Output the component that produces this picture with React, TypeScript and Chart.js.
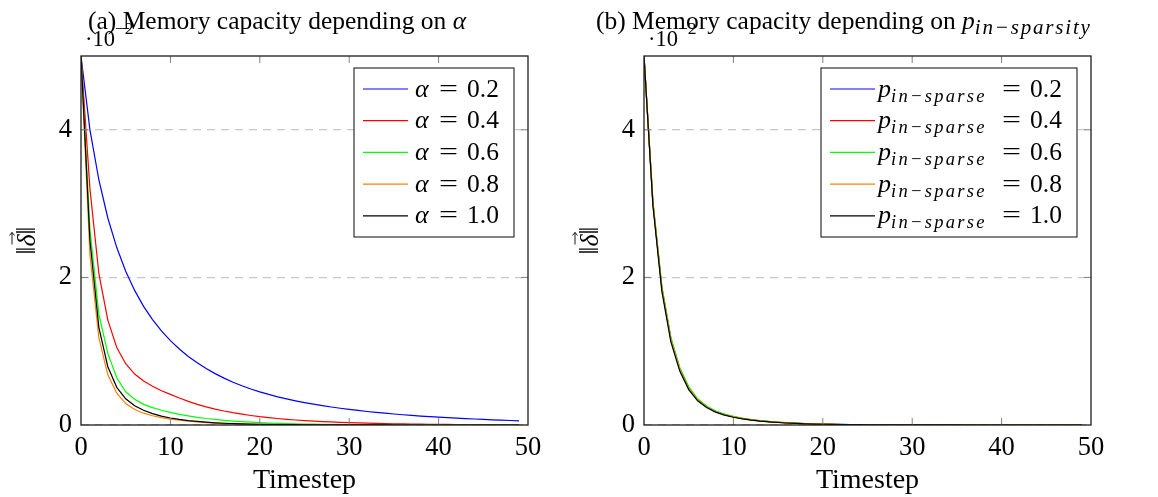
import React, { useEffect, useRef } from "react";
import { Chart, registerables } from "chart.js";

Chart.register(...registerables);

// ---------------- data (values in units of 10^-2) ----------------
const timesteps = [
  0, 1, 2, 3, 4, 5, 6, 7, 8, 9, 10, 11, 12, 13, 14, 15, 16, 17, 18, 19, 20, 21, 22, 23, 24,
  25, 26, 27, 28, 29, 30, 31, 32, 33, 34, 35, 36, 37, 38, 39, 40, 41, 42, 43, 44, 45, 46, 47, 48, 49,
];

// Panel (a): memory capacity depending on alpha
const alpha02 = [
  5.0, 4.0, 3.32, 2.805, 2.404, 2.084, 1.824, 1.608, 1.428, 1.275,
  1.144, 1.029, 0.929, 0.842, 0.765, 0.696, 0.635, 0.58, 0.531, 0.488,
  0.449, 0.414, 0.382, 0.354, 0.328, 0.304, 0.282, 0.262, 0.244, 0.227,
  0.211, 0.197, 0.183, 0.171, 0.16, 0.149, 0.139, 0.13, 0.121, 0.113,
  0.106, 0.099, 0.092, 0.086, 0.081, 0.075, 0.07, 0.066, 0.061, 0.057,
];
const alpha04 = [
  5.0, 3.2, 2.05, 1.42, 1.05, 0.83, 0.69, 0.595, 0.525, 0.465,
  0.415, 0.365, 0.32, 0.28, 0.246, 0.216, 0.19, 0.167, 0.147, 0.129,
  0.113, 0.1, 0.088, 0.077, 0.068, 0.06, 0.053, 0.046, 0.041, 0.036,
  0.032, 0.028, 0.025, 0.022, 0.019, 0.017, 0.015, 0.013, 0.011, 0.01,
  0.009, 0.008, 0.007, 0.006, 0.0055, 0.005, 0.0045, 0.004, 0.0035, 0.003,
];
const alpha06 = [
  5.0, 2.65, 1.5, 0.97, 0.64, 0.45, 0.35, 0.28, 0.235, 0.2,
  0.17, 0.145, 0.123, 0.104, 0.088, 0.075, 0.063, 0.053, 0.045, 0.038,
  0.032, 0.027, 0.023, 0.019, 0.016, 0.013, 0.011, 0.009, 0.008, 0.007,
  0.006, 0.005, 0.0045, 0.004, 0.0035, 0.003, 0.0027, 0.0024, 0.0021, 0.0018,
  0.0016, 0.0014, 0.0012, 0.0011, 0.001, 0.0009, 0.0008, 0.0007, 0.0006, 0.0006,
];
const alpha08 = [
  5.0, 2.3, 1.18, 0.68, 0.43, 0.29, 0.21, 0.16, 0.125, 0.1,
  0.08, 0.064, 0.051, 0.041, 0.033, 0.026, 0.021, 0.017, 0.013, 0.01,
  0.008, 0.0065, 0.0052, 0.0042, 0.0034, 0.0027, 0.0022, 0.0018, 0.0014, 0.0011,
  0.0009, 0.0007, 0.0006, 0.0005, 0.0004, 0.0003, 0.0003, 0.0002, 0.0002, 0.0002,
  0.0001, 0.0001, 0.0001, 0.0001, 0.0001, 0.0001, 0.0001, 0.0001, 0.0001, 0.0001,
];
const alpha10 = [
  5.0, 2.5, 1.32, 0.79, 0.51, 0.355, 0.26, 0.2, 0.155, 0.12,
  0.095, 0.075, 0.06, 0.048, 0.038, 0.03, 0.024, 0.019, 0.015, 0.012,
  0.0095, 0.0075, 0.006, 0.0048, 0.0038, 0.003, 0.0024, 0.0019, 0.0015, 0.0012,
  0.001, 0.0008, 0.0006, 0.0005, 0.0004, 0.0003, 0.0003, 0.0002, 0.0002, 0.0002,
  0.0001, 0.0001, 0.0001, 0.0001, 0.0001, 0.0001, 0.0001, 0.0001, 0.0001, 0.0001,
];

// Panel (b): memory capacity depending on p_in-sparsity
const sparse02 = [
  5.0, 3.01, 1.86, 1.17, 0.76, 0.505, 0.345, 0.25, 0.185, 0.142,
  0.112, 0.089, 0.071, 0.057, 0.046, 0.037, 0.03, 0.024, 0.019, 0.015,
  0.012, 0.0095, 0.0075, 0.006, 0.005, 0.004, 0.0032, 0.0026, 0.0021, 0.0017,
  0.0014, 0.0011, 0.0009, 0.0007, 0.0006, 0.0005, 0.0004, 0.0003, 0.0003, 0.0002,
  0.0002, 0.0002, 0.0001, 0.0001, 0.0001, 0.0001, 0.0001, 0.0001, 0.0001, 0.0001,
];
const sparse04 = [
  5.0, 3.0, 1.85, 1.17, 0.76, 0.5, 0.342, 0.247, 0.182, 0.14,
  0.11, 0.088, 0.07, 0.056, 0.045, 0.036, 0.029, 0.023, 0.018, 0.014,
  0.011, 0.009, 0.007, 0.0058, 0.0047, 0.0038, 0.0031, 0.0025, 0.002, 0.0016,
  0.0013, 0.001, 0.0008, 0.0007, 0.0005, 0.0004, 0.0004, 0.0003, 0.0002, 0.0002,
  0.0002, 0.0001, 0.0001, 0.0001, 0.0001, 0.0001, 0.0001, 0.0001, 0.0001, 0.0001,
];
const sparse06 = [
  5.0, 3.03, 1.88, 1.19, 0.78, 0.52, 0.355, 0.258, 0.19, 0.147,
  0.116, 0.093, 0.074, 0.06, 0.048, 0.039, 0.031, 0.025, 0.02, 0.016,
  0.013, 0.01, 0.008, 0.0065, 0.0052, 0.0042, 0.0034, 0.0027, 0.0022, 0.0018,
  0.0014, 0.0011, 0.0009, 0.0007, 0.0006, 0.0005, 0.0004, 0.0003, 0.0003, 0.0002,
  0.0002, 0.0002, 0.0001, 0.0001, 0.0001, 0.0001, 0.0001, 0.0001, 0.0001, 0.0001,
];
const sparse08 = [
  5.0, 3.0, 1.84, 1.16, 0.755, 0.497, 0.34, 0.245, 0.18, 0.139,
  0.109, 0.087, 0.069, 0.055, 0.044, 0.035, 0.028, 0.022, 0.018, 0.014,
  0.011, 0.0088, 0.007, 0.0056, 0.0045, 0.0036, 0.0029, 0.0023, 0.0019, 0.0015,
  0.0012, 0.001, 0.0008, 0.0006, 0.0005, 0.0004, 0.0003, 0.0003, 0.0002, 0.0002,
  0.0002, 0.0001, 0.0001, 0.0001, 0.0001, 0.0001, 0.0001, 0.0001, 0.0001, 0.0001,
];
const sparse10 = [
  5.0, 2.97, 1.81, 1.13, 0.73, 0.48, 0.328, 0.236, 0.174, 0.134,
  0.105, 0.084, 0.067, 0.053, 0.043, 0.034, 0.027, 0.022, 0.017, 0.013,
  0.0105, 0.0084, 0.0067, 0.0053, 0.0043, 0.0034, 0.0027, 0.0022, 0.0018, 0.0014,
  0.0011, 0.0009, 0.0007, 0.0006, 0.0005, 0.0004, 0.0003, 0.0002, 0.0002, 0.0002,
  0.0001, 0.0001, 0.0001, 0.0001, 0.0001, 0.0001, 0.0001, 0.0001, 0.0001, 0.0001,
];

const legendValues = ["0.2", "0.4", "0.6", "0.8", "1.0"];
const xTicks = [0, 10, 20, 30, 40, 50];
const yTicks = [0, 2, 4];
const xRange = [0, 50];
const yRange = [0, 5];
const yExponent = "−2";
const xLabel = "Timestep";
const seriesColors = ["#0000ff", "#ff0000", "#00ff00", "#ff8000", "#000000"];

// ---------------- styling helpers ----------------
const SERIF = '"Liberation Serif", "Times New Roman", serif';
const up = (s: number) => `${s}px ${SERIF}`;
const it = (s: number) => `italic ${s}px ${SERIF}`;

type Run = { text: string; font: string; dy?: number; ls?: number };

function runsWidth(ctx: CanvasRenderingContext2D, runs: Run[]) {
  let w = 0;
  for (const r of runs) {
    ctx.font = r.font;
    (ctx as any).letterSpacing = `${r.ls ?? 0}px`;
    w += ctx.measureText(r.text).width;
  }
  (ctx as any).letterSpacing = "0px";
  return w;
}
function drawRuns(ctx: CanvasRenderingContext2D, runs: Run[], x: number, y: number) {
  let cx = x;
  for (const r of runs) {
    ctx.font = r.font;
    (ctx as any).letterSpacing = `${r.ls ?? 0}px`;
    ctx.fillText(r.text, cx, y + (r.dy ?? 0));
    cx += ctx.measureText(r.text).width;
  }
  (ctx as any).letterSpacing = "0px";
  return cx;
}

type Panel = {
  width: number;
  series: number[][];
  titleRuns: Run[];
  titleX: number;
  nameRuns: Run[];
  nameX: number;
  box: { x: number; y: number; w: number; h: number };
};

const PLOT = { left: 81, right: 528, top: 56, bottom: 425 };

const panelA: Panel = {
  width: 579,
  series: [alpha02, alpha04, alpha06, alpha08, alpha10],
  titleRuns: [
    { text: "(a) Memory capacity depending on ", font: up(25.5) },
    { text: "α", font: it(25.5) },
  ],
  titleX: 88,
  nameRuns: [{ text: "α", font: it(26) }],
  nameX: 61,
  box: { x: 354, y: 68, w: 160, h: 169 },
};

const panelB: Panel = {
  width: 595,
  series: [sparse02, sparse04, sparse06, sparse08, sparse10],
  titleRuns: [
    { text: "(b) Memory capacity depending on ", font: up(25.5) },
    { text: "p", font: it(25.5) },
    { text: "in−sparsity", font: it(21), dy: 5, ls: 1.8 },
  ],
  titleX: 33,
  nameRuns: [
    { text: "p", font: it(26) },
    { text: "in−sparse", font: it(18.5), dy: 5, ls: 2.3 },
  ],
  nameX: 57,
  box: { x: 258, y: 68, w: 256, h: 169 },
};

function decorPlugin(panel: Panel) {
  return {
    id: "decor",
    afterDraw(chart: any) {
      const ctx: CanvasRenderingContext2D = chart.ctx;
      const { left, right, top, bottom } = chart.chartArea;
      const xs = chart.scales.x;
      const ys = chart.scales.y;
      ctx.save();

      // inner tick marks on all four sides
      ctx.strokeStyle = "#808080";
      ctx.lineWidth = 1;
      ctx.beginPath();
      for (const v of xTicks) {
        const px = xs.getPixelForValue(v);
        if (px <= left + 1 || px >= right - 1) continue;
        ctx.moveTo(px, bottom);
        ctx.lineTo(px, bottom - 7);
        ctx.moveTo(px, top);
        ctx.lineTo(px, top + 7);
      }
      for (const v of yTicks) {
        const py = ys.getPixelForValue(v);
        if (py >= bottom - 1 || py <= top + 1) continue;
        ctx.moveTo(left, py);
        ctx.lineTo(left + 7, py);
        ctx.moveTo(right, py);
        ctx.lineTo(right - 7, py);
      }
      ctx.stroke();

      // frame
      ctx.strokeStyle = "#1e1e1e";
      ctx.lineWidth = 1.3;
      ctx.strokeRect(left, top, right - left, bottom - top);

      // legend
      const b = panel.box;
      ctx.fillStyle = "#ffffff";
      ctx.fillRect(b.x, b.y, b.w, b.h);
      ctx.strokeStyle = "#1e1e1e";
      ctx.lineWidth = 1.1;
      ctx.strokeRect(b.x, b.y, b.w, b.h);
      ctx.textAlign = "left";
      ctx.textBaseline = "alphabetic";
      legendValues.forEach((val, i) => {
        const cy = 89 + i * 31.7;
        ctx.strokeStyle = seriesColors[i];
        ctx.lineWidth = 1.2;
        ctx.beginPath();
        ctx.moveTo(b.x + 9, cy);
        ctx.lineTo(b.x + 54, cy);
        ctx.stroke();
        ctx.fillStyle = "#000";
        const base = cy + 7.5;
        drawRuns(ctx, panel.nameRuns, b.x + panel.nameX, base);
        ctx.font = up(25.5);
        ctx.fillText(val, b.x + b.w - 47, base);
        ctx.save();
        ctx.font = up(25.5);
        const ew = ctx.measureText("=").width;
        ctx.translate(b.x + b.w - 75, base);
        ctx.scale(19 / ew, 1);
        ctx.fillText("=", 0, 0);
        ctx.restore();
      });

      // title
      ctx.fillStyle = "#000";
      drawRuns(ctx, panel.titleRuns, panel.titleX, 29);

      // scale exponent
      drawRuns(
        ctx,
        [
          { text: "·10", font: up(22.5) },
          { text: yExponent, font: up(17.5), dy: -12 },
        ],
        left + 4,
        46
      );

      // x label
      ctx.font = up(28);
      ctx.textAlign = "center";
      ctx.fillText(xLabel, (left + right) / 2, 488);
      ctx.textAlign = "left";

      // y label ‖δ‖ (rotated)
      ctx.save();
      ctx.translate(35, (top + bottom) / 2);
      ctx.rotate(-Math.PI / 2);
      const yRuns: Run[] = [
        { text: "‖", font: up(28) },
        { text: "δ", font: it(26) },
        { text: "‖", font: up(28) },
      ];
      const yw = runsWidth(ctx, yRuns);
      const sx = -yw / 2;
      ctx.font = up(28);
      const barW = ctx.measureText("‖").width;
      ctx.font = it(26);
      const dW = ctx.measureText("δ").width;
      drawRuns(ctx, yRuns, sx, 0);
      // vector arrow over δ
      const ax0 = sx + barW + 2;
      const ax1 = sx + barW + dW + 2;
      const ay = -23;
      ctx.strokeStyle = "#000";
      ctx.lineWidth = 0.9;
      ctx.beginPath();
      ctx.moveTo(ax0, ay);
      ctx.lineTo(ax1, ay);
      ctx.moveTo(ax1 - 3, ay - 2.5);
      ctx.lineTo(ax1, ay);
      ctx.lineTo(ax1 - 3, ay + 2.5);
      ctx.stroke();
      ctx.restore();

      ctx.restore();
    },
  };
}

function makeChart(canvas: HTMLCanvasElement, panel: Panel) {
  const datasets = panel.series.map((vals, i) => ({
    label: legendValues[i],
    data: timesteps.map((t, j) => ({ x: t, y: vals[j] })),
    borderColor: seriesColors[i],
    backgroundColor: seriesColors[i],
    borderWidth: 1.2,
    pointRadius: 0,
    fill: false,
    tension: 0,
    order: panel.series.length - i,
  }));
  const tickFont = { family: SERIF, size: 26.5 };
  return new Chart(canvas, {
    type: "line",
    data: { datasets },
    options: {
      responsive: false,
      animation: false,
      devicePixelRatio: 1,
      layout: {
        padding: { left: 0, right: panel.width - PLOT.right, top: PLOT.top, bottom: 0 },
      },
      plugins: {
        legend: { display: false },
        title: { display: false },
        tooltip: { enabled: false },
      },
      scales: {
        x: {
          type: "linear",
          min: xRange[0],
          max: xRange[1],
          afterFit: (s: any) => {
            s.height = 497 - PLOT.bottom;
          },
          ticks: {
            stepSize: 10,
            font: tickFont,
            color: "#000",
            padding: 7,
            maxRotation: 0,
            autoSkip: false,
          },
          grid: { display: false, drawTicks: false },
          border: { display: false },
        },
        y: {
          type: "linear",
          min: yRange[0],
          max: yRange[1],
          afterFit: (s: any) => {
            s.width = PLOT.left;
          },
          ticks: {
            stepSize: 2,
            includeBounds: false,
            font: tickFont,
            color: "#000",
            padding: 9,
          },
          grid: { display: true, color: "#c8c8c8", lineWidth: 1.2, drawTicks: false },
          border: { display: false, dash: [8, 6] },
        },
      },
    } as any,
    plugins: [decorPlugin(panel)],
  });
}

export default function App() {
  const leftRef = useRef<HTMLCanvasElement>(null);
  const rightRef = useRef<HTMLCanvasElement>(null);
  useEffect(() => {
    const c1 = makeChart(leftRef.current!, panelA);
    const c2 = makeChart(rightRef.current!, panelB);
    return () => {
      c1.destroy();
      c2.destroy();
    };
  }, []);
  return (
    <div style={{ position: "absolute", left: 0, top: 0, width: 1158, height: 497, background: "#fff" }}>
      <canvas ref={leftRef} width={panelA.width} height={497} style={{ position: "absolute", left: 0, top: 0 }} />
      <canvas ref={rightRef} width={panelB.width} height={497} style={{ position: "absolute", left: 563, top: 0 }} />
    </div>
  );
}
